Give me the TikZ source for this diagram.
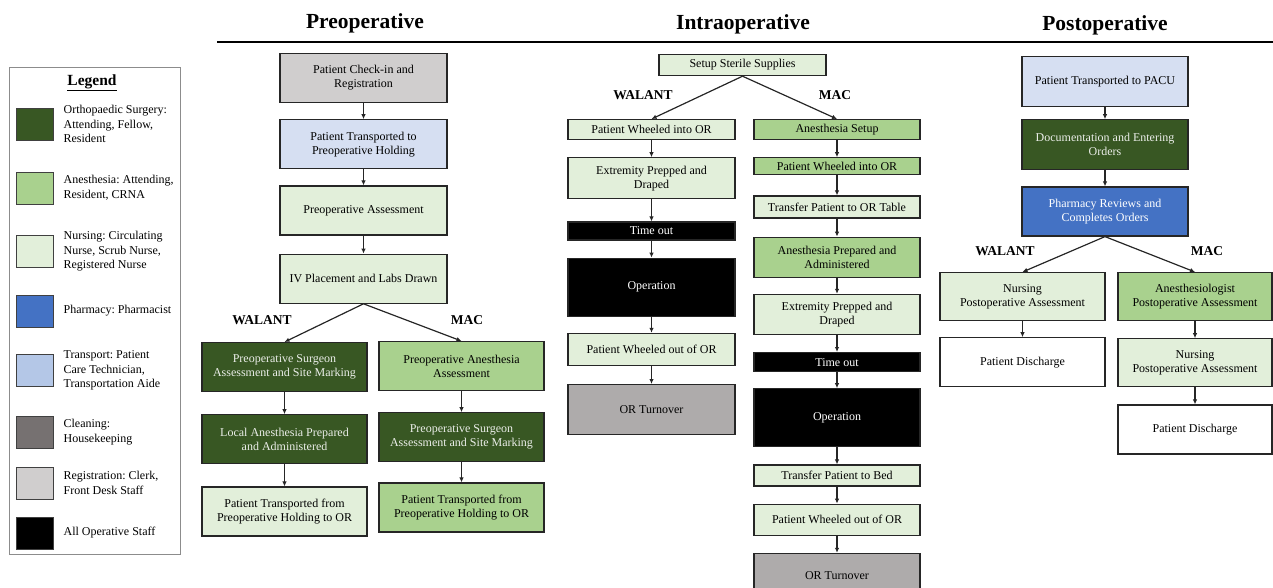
\documentclass[tikz,border=0pt]{standalone}
\usepackage{fontspec}
\setmainfont{Liberation Serif}
\usepackage{tikz}
\usetikzlibrary{positioning}
\usetikzlibrary{arrows.meta}
\frenchspacing

\definecolor{ortho}{HTML}{385723}
\definecolor{anes}{HTML}{A9D18E}
\definecolor{nurs}{HTML}{E2EFDA}
\definecolor{pharm}{HTML}{4472C4}
\definecolor{transp}{HTML}{D6DFF2}
\definecolor{transpkey}{HTML}{B4C7E7}
\definecolor{clean}{HTML}{767171}
\definecolor{turn}{HTML}{AEABAB}
\definecolor{regis}{HTML}{D0CECE}

\def\boxfont{\fontsize{12}{14}\selectfont}
\def\phasefont{\bfseries\fontsize{21.5}{24}\selectfont}
\def\branchfont{\bfseries\fontsize{13.5}{15}\selectfont}

\begin{document}
\begin{tikzpicture}[x=1pt, y=-1pt]

    \tikzstyle{step-box}   = [draw=black!85, line width=1.2pt, rectangle, align=center, inner sep=1pt, font=\boxfont, minimum width=167pt, minimum height=49pt];
    \tikzstyle{ortho-s}    = [step-box, fill=ortho, text=white!90!ortho];
    \tikzstyle{anes-s}     = [step-box, fill=anes];
    \tikzstyle{nurs-s}     = [step-box, fill=nurs];
    \tikzstyle{pharm-s}    = [step-box, fill=pharm, text=white];
    \tikzstyle{transp-s}   = [step-box, fill=transp];
    \tikzstyle{turn-s}     = [step-box, fill=turn];
    \tikzstyle{regis-s}    = [step-box, fill=regis];
    \tikzstyle{staff-s}    = [step-box, fill=black, text=white];
    \tikzstyle{plain-s}    = [step-box, fill=white];
    \tikzstyle{swatch}     = [draw=black!75, line width=0.9pt, rectangle, minimum width=37pt, minimum height=32pt];
    \tikzstyle{key-text}   = [align=left, inner sep=0pt, font=\fontsize{12}{14.5}\selectfont];
    \tikzstyle{phase}      = [font=\phasefont];
    \tikzstyle{branch}     = [font=\branchfont];
    \tikzstyle{thick-arrow} = [draw=black!85, line width=1.2pt, -{Latex[length=5pt, width=4.5pt]}];

    \useasboundingbox (0,0) rectangle (1273,587);

    %
    % Phase titles
    %
    \node[phase] (title-pre)   at (365,23)  {Preoperative};
    \node[phase] (title-intra) at (743,24)  {Intraoperative};
    \node[phase] (title-post)  at (1105,25) {Postoperative};

    \coordinate (rule-l) at (217,42);
    \coordinate (rule-r) at (1273,42);
    \draw[line width=1.5pt] (rule-l) -- (rule-r);

    %
    % Legend
    %
    \node[draw=black!45, line width=0.8pt, minimum width=171pt, minimum height=487pt] (legend) at (94.5,310.5) {};
    \node[font=\bfseries\fontsize{15.5}{17}\selectfont] (legend-title) at (92,83) {\underline{Legend}};

    \node[swatch, fill=ortho]     (leg-1) at (34.5,124)   {};
    \node[swatch, fill=anes]      (leg-2) at (34.5,188)   {};
    \node[swatch, fill=nurs]      (leg-3) at (34.5,251.5) {};
    \node[swatch, fill=pharm]     (leg-4) at (34.5,311)   {};
    \node[swatch, fill=transpkey] (leg-5) at (34.5,370.5) {};
    \node[swatch, fill=clean]     (leg-6) at (34.5,432)   {};
    \node[swatch, fill=regis]     (leg-7) at (34.5,483)   {};
    \node[swatch, fill=black]     (leg-8) at (34.5,533)   {};

    \node[key-text] (key-1) [right=10pt of leg-1] {Orthopaedic Surgery:\\Attending, Fellow,\\Resident};
    \node[key-text] (key-2) [right=10pt of leg-2] {Anesthesia: Attending,\\Resident, CRNA};
    \node[key-text] (key-3) [right=10pt of leg-3] {Nursing: Circulating\\Nurse, Scrub Nurse,\\Registered Nurse};
    \node[key-text] (key-4) [right=10pt of leg-4] {Pharmacy: Pharmacist};
    \node[key-text] (key-5) [right=10pt of leg-5] {Transport: Patient\\Care Technician,\\Transportation Aide};
    \node[key-text] (key-6) [right=10pt of leg-6] {Cleaning:\\Housekeeping};
    \node[key-text] (key-7) [right=10pt of leg-7] {Registration: Clerk,\\Front Desk Staff};
    \node[key-text] (key-8) [right=10pt of leg-8] {All Operative Staff};

    %
    % Preoperative
    %
    \node[regis-s, anchor=north] (pre-1) at (363.5,53) {Patient Check-in and\\Registration};
    \node[transp-s] (pre-2) [below=16pt of pre-1] {Patient Transported to\\Preoperative Holding};
    \node[nurs-s]   (pre-3) [below=16pt of pre-2] {Preoperative Assessment};
    \node[nurs-s]   (pre-4) [below=18pt of pre-3] {IV Placement and Labs Drawn};

    \node[branch] (pre-walant) at (262,320) {WALANT};
    \node[branch] (pre-mac)    at (467,320) {MAC};

    \node[ortho-s, anchor=north, minimum width=165pt] (pre-w-1) at (284.5,342) {Preoperative Surgeon\\Assessment and Site Marking};
    \node[ortho-s, minimum width=165pt] (pre-w-2) [below=22pt of pre-w-1] {Local Anesthesia Prepared\\and Administered};
    \node[nurs-s,  minimum width=165pt] (pre-w-3) [below=22pt of pre-w-2] {Patient Transported from\\Preoperative Holding to OR};

    \node[anes-s, anchor=north, minimum width=165pt] (pre-m-1) at (461.5,341) {Preoperative Anesthesia\\Assessment};
    \node[ortho-s, minimum width=165pt] (pre-m-2) [below=21pt of pre-m-1] {Preoperative Surgeon\\Assessment and Site Marking};
    \node[anes-s,  minimum width=165pt] (pre-m-3) [below=20pt of pre-m-2] {Patient Transported from\\Preoperative Holding to OR};

    %
    % Intraoperative
    %
    \node[nurs-s, anchor=north, minimum height=21pt] (intra-0) at (742.5,54) {Setup Sterile Supplies};

    \node[branch] (intra-walant) at (643,95) {WALANT};
    \node[branch] (intra-mac)    at (835,95) {MAC};

    \node[nurs-s, anchor=north, minimum height=20pt] (intra-w-1) at (651.5,119) {Patient Wheeled into OR};
    \node[nurs-s,  minimum height=41pt] (intra-w-2) [below=17pt of intra-w-1] {Extremity Prepped and\\Draped};
    \node[staff-s, minimum height=18pt] (intra-w-3) [below=22pt of intra-w-2] {Time out};
    \node[staff-s, minimum height=58pt] (intra-w-4) [below=17pt of intra-w-3] {Operation};
    \node[nurs-s,  minimum height=32pt] (intra-w-5) [below=16pt of intra-w-4] {Patient Wheeled out of OR};
    \node[turn-s,  minimum height=50pt] (intra-w-6) [below=18pt of intra-w-5] {OR Turnover};

    \node[anes-s, anchor=north, minimum width=166pt, minimum height=20pt] (intra-m-1) at (837,119) {Anesthesia Setup};
    \node[anes-s,  minimum width=166pt, minimum height=17pt] (intra-m-2)  [below=17pt of intra-m-1] {Patient Wheeled into OR};
    \node[nurs-s,  minimum width=166pt, minimum height=22pt] (intra-m-3)  [below=20pt of intra-m-2] {Transfer Patient to OR Table};
    \node[anes-s,  minimum width=166pt, minimum height=40pt] (intra-m-4)  [below=18pt of intra-m-3] {Anesthesia Prepared and\\Administered};
    \node[nurs-s,  minimum width=166pt, minimum height=40pt] (intra-m-5)  [below=16pt of intra-m-4] {Extremity Prepped and\\Draped};
    \node[staff-s, minimum width=166pt, minimum height=19pt] (intra-m-6)  [below=17pt of intra-m-5] {Time out};
    \node[staff-s, minimum width=166pt, minimum height=58pt] (intra-m-7)  [below=16pt of intra-m-6] {Operation};
    \node[nurs-s,  minimum width=166pt, minimum height=21pt] (intra-m-8)  [below=17pt of intra-m-7] {Transfer Patient to Bed};
    \node[nurs-s,  minimum width=166pt, minimum height=31pt] (intra-m-9)  [below=17pt of intra-m-8] {Patient Wheeled out of OR};
    \node[turn-s,  minimum width=166pt, minimum height=44pt] (intra-m-10) [below=17pt of intra-m-9] {OR Turnover};

    %
    % Postoperative
    %
    \node[transp-s, anchor=north, minimum width=166pt, minimum height=50pt] (post-1) at (1105,56) {Patient Transported to PACU};
    \node[ortho-s, minimum width=166pt, minimum height=50pt] (post-2) [below=12pt of post-1] {Documentation and Entering\\Orders};
    \node[pharm-s, minimum width=166pt] (post-3) [below=16pt of post-2] {Pharmacy Reviews and\\Completes Orders};

    \node[branch] (post-walant) at (1005,251) {WALANT};
    \node[branch] (post-mac)    at (1207,251) {MAC};

    \node[nurs-s, anchor=north, minimum width=165pt, minimum height=48pt] (post-w-1) at (1022.5,272) {Nursing\\Postoperative Assessment};
    \node[plain-s, minimum width=165pt] (post-w-2) [below=16pt of post-w-1] {Patient Discharge};

    \node[anes-s, anchor=north, minimum width=154pt, minimum height=48pt] (post-m-1) at (1195,272) {Anesthesiologist\\Postoperative Assessment};
    \node[nurs-s,  minimum width=154pt, minimum height=48pt] (post-m-2) [below=17pt of post-m-1] {Nursing\\Postoperative Assessment};
    \node[plain-s, minimum width=154pt] (post-m-3) [below=17pt of post-m-2] {Patient Discharge};

    %
    % Arrows
    %
    \draw[thick-arrow] (pre-1) -- (pre-2);
    \draw[thick-arrow] (pre-2) -- (pre-3);
    \draw[thick-arrow] (pre-3) -- (pre-4);
    \draw[thick-arrow] (pre-4.south) -- (pre-w-1.north);
    \draw[thick-arrow] (pre-4.south) -- (pre-m-1.north);
    \draw[thick-arrow] (pre-w-1) -- (pre-w-2);
    \draw[thick-arrow] (pre-w-2) -- (pre-w-3);
    \draw[thick-arrow] (pre-m-1) -- (pre-m-2);
    \draw[thick-arrow] (pre-m-2) -- (pre-m-3);

    \draw[thick-arrow] (intra-0.south) -- (intra-w-1.north);
    \draw[thick-arrow] (intra-0.south) -- (intra-m-1.north);
    \foreach \a/\b in {1/2, 2/3, 3/4, 4/5, 5/6} {
        \draw[thick-arrow] (intra-w-\a) -- (intra-w-\b);
    }
    \foreach \a/\b in {1/2, 2/3, 3/4, 4/5, 5/6, 6/7, 7/8, 8/9, 9/10} {
        \draw[thick-arrow] (intra-m-\a) -- (intra-m-\b);
    }

    \draw[thick-arrow] (post-1) -- (post-2);
    \draw[thick-arrow] (post-2) -- (post-3);
    \draw[thick-arrow] (post-3.south) -- (post-w-1.north);
    \draw[thick-arrow] (post-3.south) -- (post-m-1.north);
    \draw[thick-arrow] (post-w-1) -- (post-w-2);
    \draw[thick-arrow] (post-m-1) -- (post-m-2);
    \draw[thick-arrow] (post-m-2) -- (post-m-3);
\end{tikzpicture}
\end{document}
